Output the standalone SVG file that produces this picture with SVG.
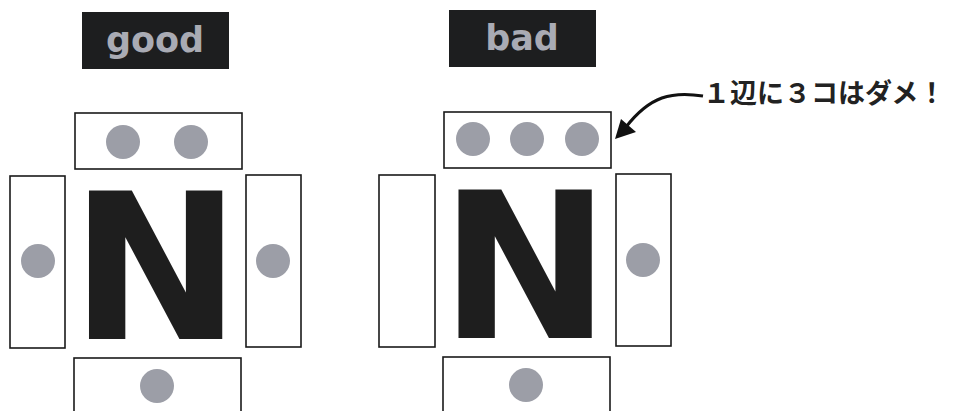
<svg xmlns="http://www.w3.org/2000/svg" width="956" height="411" viewBox="0 0 956 411">
<defs>
<style>
.lbl{fill:#1d1e1f}
.lbltxt{font-family:"DejaVu Sans",sans-serif;font-weight:bold;font-size:35px;fill:#a9abb4;text-anchor:middle}
.box{fill:#ffffff;stroke:#1a1a1a;stroke-width:1.6}
.dot{fill:#9c9ea7}
.n{font-family:"DejaVu Sans",sans-serif;font-weight:bold;font-size:204px;fill:#1e1e1e;text-anchor:middle}
.note{font-family:"Noto Sans CJK JP",sans-serif;font-weight:bold;font-size:27px;fill:#222222}
</style>
</defs>
<rect width="956" height="411" fill="#ffffff"/>

<g id="good">
<g id="good-label">
<rect class="lbl" x="82" y="12" width="147" height="57"/>
<text class="lbltxt" x="155" y="52">good</text>
</g>
<g id="good-top"><rect class="box" x="75" y="113" width="167" height="56"/><circle class="dot" cx="123" cy="142" r="17"/><circle class="dot" cx="191" cy="142" r="17"/></g>
<g id="good-left"><rect class="box" x="10" y="176" width="55" height="172"/><circle class="dot" cx="38" cy="261" r="17"/></g>
<g id="good-right"><rect class="box" x="246" y="175" width="55" height="172"/><circle class="dot" cx="273" cy="261" r="17"/></g>
<g id="good-bottom"><rect class="box" x="74" y="358" width="167" height="70"/><circle class="dot" cx="157" cy="386" r="17"/></g>
<g id="good-N"><text class="n" x="155.5" y="339">N</text></g>
</g>

<g id="bad">
<g id="bad-label">
<rect class="lbl" x="449" y="10" width="147" height="57"/>
<text class="lbltxt" x="522" y="50">bad</text>
</g>
<g id="bad-top"><rect class="box" x="444" y="112" width="167" height="56"/><circle class="dot" cx="473" cy="139" r="17"/><circle class="dot" cx="527" cy="139" r="17"/><circle class="dot" cx="582" cy="139" r="17"/></g>
<g id="bad-left"><rect class="box" x="379" y="175" width="56" height="172"/></g>
<g id="bad-right"><rect class="box" x="616" y="174" width="55" height="172"/><circle class="dot" cx="643" cy="260" r="17"/></g>
<g id="bad-bottom"><rect class="box" x="443" y="357" width="167" height="70"/><circle class="dot" cx="526" cy="385" r="17"/></g>
<g id="bad-N"><text class="n" x="525" y="338">N</text></g>
</g>

<g id="connectors">
<path d="M703,96 C672,91 650,96 626,127" fill="none" stroke="#111" stroke-width="3"/>
<path d="M615,139 L621,119 L636,132 z" fill="#111"/>
</g>

<g id="note">
<text class="note" x="703" y="103">１辺に３コはダメ！</text>
</g>
</svg>
